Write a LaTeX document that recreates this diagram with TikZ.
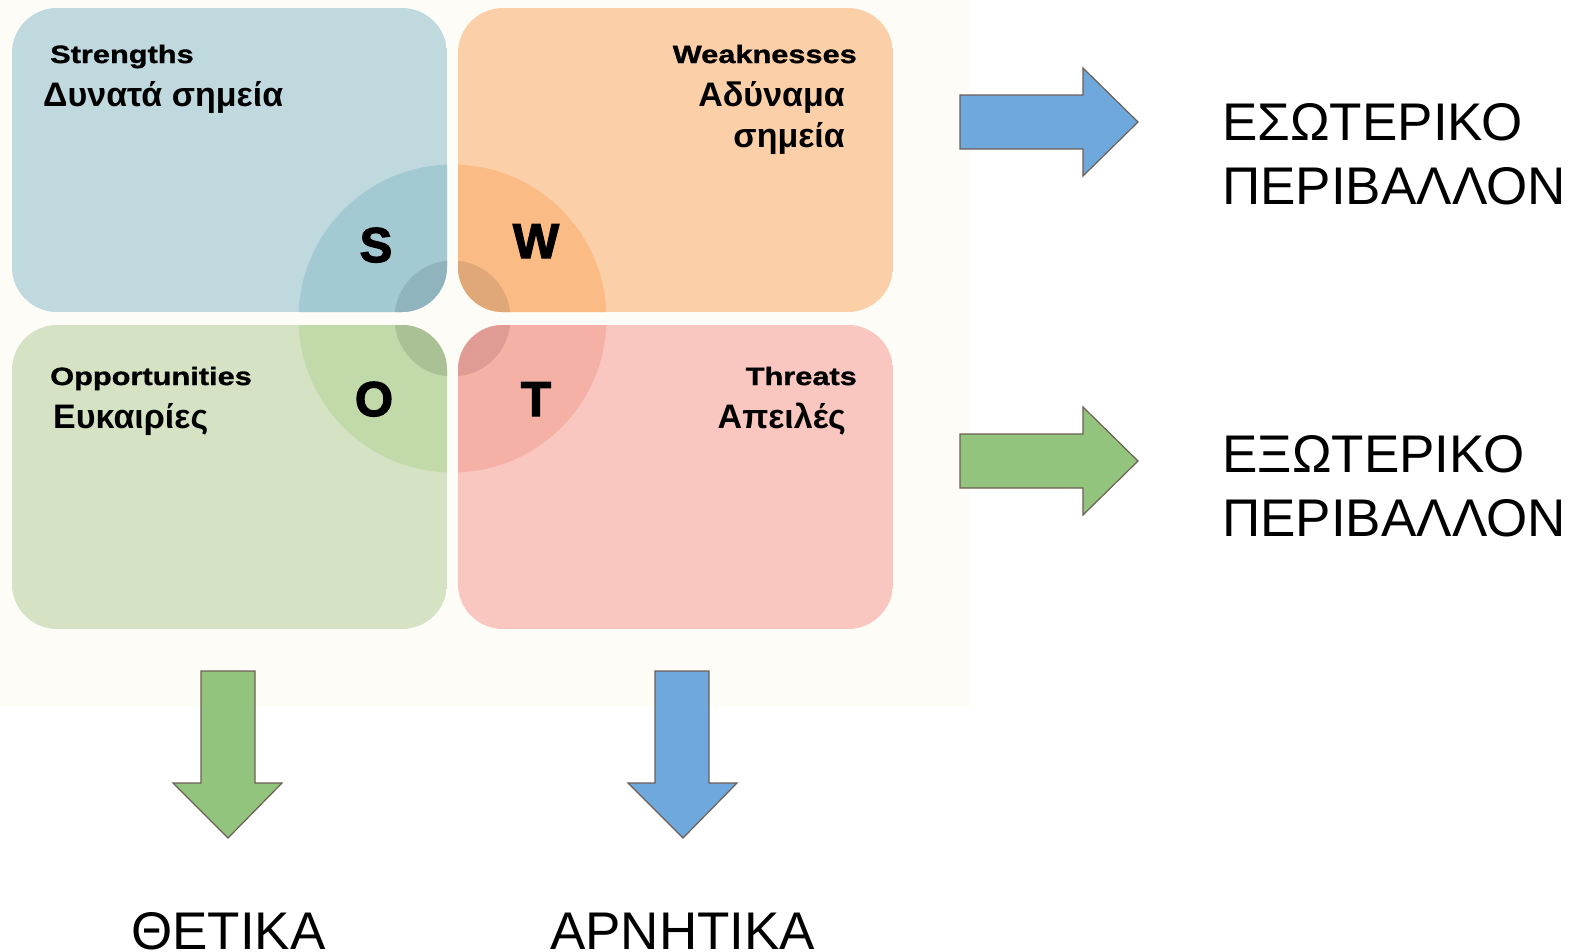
\documentclass[tikz,border=0pt]{standalone}
\usepackage{fontspec}
\setmainfont{Liberation Sans}
\newfontfamily\engfont[FakeStretch=1.23,FakeBold=1.2]{Liberation Sans}
\newfontfamily\grkfont{Liberation Sans}
\newfontfamily\letfont[FakeBold=2.5]{Liberation Sans}
\definecolor{bgcream}{HTML}{FDFCF7}
\definecolor{sbox}{HTML}{BFD9DF}
\definecolor{sbig}{HTML}{A3C9D3}
\definecolor{ssmall}{HTML}{8FB4BE}
\definecolor{wbox}{HTML}{FBD0A9}
\definecolor{wbig}{HTML}{FABC84}
\definecolor{wsmall}{HTML}{E0A878}
\definecolor{obox}{HTML}{D5E3C4}
\definecolor{obig}{HTML}{C2D9A9}
\definecolor{osmall}{HTML}{AAC196}
\definecolor{tbox}{HTML}{F9C7BF}
\definecolor{tbig}{HTML}{F6B1A7}
\definecolor{tsmall}{HTML}{E09C94}
\definecolor{arrblue}{HTML}{6FA8DC}
\definecolor{arrgreen}{HTML}{93C47D}
\definecolor{arredge}{HTML}{6E5F55}
\tikzset{
  englabel/.style={inner sep=0pt, font=\engfont\bfseries\fontsize{25}{30}\selectfont},
  grklabel/.style={inner sep=0pt, font=\grkfont\bfseries\fontsize{34}{40}\selectfont},
  letlabel/.style={inner sep=0pt, font=\letfont\bfseries\fontsize{49}{56}\selectfont},
  bigtext/.style={inner sep=0pt, font=\fontsize{53}{60}\selectfont},
  blockarrow/.style={draw=arredge, line width=1.2pt, line join=miter}
}
\begin{document}
\begin{tikzpicture}[x=1pt,y=-1pt]
\useasboundingbox (0,0) rectangle (1578,951);
\fill[white] (0,0) rectangle (1578,951);
\fill[bgcream] (0,0) rectangle (970,706);
\coordinate (c) at (452.5,318.5);
% S quadrant
\begin{scope}
\clip[rounded corners=45] (12,8) rectangle (447,312);
\fill[sbox] (12,8) rectangle (447,312);
\fill[sbig] (c) circle (154);
\fill[ssmall] (c) circle (58);
\end{scope}
% W quadrant
\begin{scope}
\clip[rounded corners=45] (458,8) rectangle (893,312);
\fill[wbox] (458,8) rectangle (893,312);
\fill[wbig] (c) circle (154);
\fill[wsmall] (c) circle (58);
\end{scope}
% O quadrant
\begin{scope}
\clip[rounded corners=45] (12,325) rectangle (447,629);
\fill[obox] (12,325) rectangle (447,629);
\fill[obig] (c) circle (154);
\fill[osmall] (c) circle (58);
\end{scope}
% T quadrant
\begin{scope}
\clip[rounded corners=45] (458,325) rectangle (893,629);
\fill[tbox] (458,325) rectangle (893,629);
\fill[tbig] (c) circle (154);
\fill[tsmall] (c) circle (58);
\end{scope}
% labels
\node[englabel, anchor=base west] (strE) at (50,63) {Strengths};
\node[grklabel, anchor=base west] (strG) at (43,106) {Δυνατά σημεία};
\node[englabel, anchor=base east] (weaE) at (857,63) {Weaknesses};
\node[grklabel, anchor=base east] (weaG1) at (845,106) {Αδύναμα};
\node[grklabel, anchor=base east] (weaG2) at (845,147) {σημεία};
\node[englabel, anchor=base west] (oppE) at (50,385) {Opportunities};
\node[grklabel, anchor=base west] (oppG) at (53,428) {Ευκαιρίες};
\node[englabel, anchor=base east] (thrE) at (857,385) {Threats};
\node[grklabel, anchor=base east] (thrG) at (846,428) {Απειλές};
\node[letlabel, anchor=base] (letS) at (376,262) {S};
\node[letlabel, anchor=base] (letW) at (536,258) {W};
\node[letlabel, anchor=base] (letO) at (374,416) {O};
\node[letlabel, anchor=base] (letT) at (536,416) {T};
% block arrows
\draw[blockarrow, fill=arrblue] (960,95) -- (1083,95) -- (1083,68) -- (1138,122) -- (1083,176) -- (1083,149) -- (960,149) -- cycle;
\draw[blockarrow, fill=arrgreen] (960,434) -- (1083,434) -- (1083,407) -- (1138,461) -- (1083,515) -- (1083,488) -- (960,488) -- cycle;
\draw[blockarrow, fill=arrgreen] (201,671) -- (255,671) -- (255,783) -- (282,783) -- (228,838) -- (173,783) -- (201,783) -- cycle;
\draw[blockarrow, fill=arrblue] (655,671) -- (709,671) -- (709,783) -- (737,783) -- (683,838) -- (628,783) -- (655,783) -- cycle;
% outer texts
\node[bigtext, anchor=base west] (int1) at (1222,140) {ΕΣΩΤΕΡΙΚΟ};
\node[bigtext, anchor=base west] (int2) at (1222,204) {ΠΕΡΙΒΑΛΛΟΝ};
\node[bigtext, anchor=base west] (ext1) at (1222,472) {ΕΞΩΤΕΡΙΚΟ};
\node[bigtext, anchor=base west] (ext2) at (1222,536) {ΠΕΡΙΒΑΛΛΟΝ};
\node[bigtext, anchor=base west] (pos) at (131,949) {ΘΕΤΙΚΑ};
\node[bigtext, anchor=base west] (neg) at (550,949) {ΑΡΝΗΤΙΚΑ};
\end{tikzpicture}
\end{document}
